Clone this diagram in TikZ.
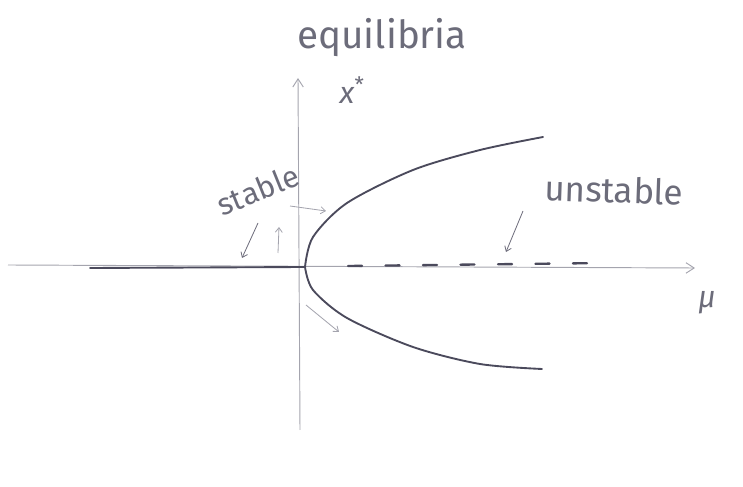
\documentclass[tikz,border=0pt]{standalone}
\usepackage{fontspec}
\setmainfont{Fira Sans}
\usetikzlibrary{arrows.meta}
\definecolor{pencil}{HTML}{4B4A5C}
\definecolor{lead}{HTML}{A4A4AE}
\definecolor{graphite}{HTML}{6C6C7A}

\begin{document}
\begin{tikzpicture}[
  x=0.03cm, y=-0.03cm,
  axis/.style={-{Straight Barb[length=7pt, width=9pt]}, lead, line width=0.8pt},
  branch/.style={pencil, line width=1.6pt, line cap=round},
  hint/.style={-{Straight Barb[length=4pt, width=6pt]}, lead, line width=0.7pt},
  label/.style={graphite, font=\fontsize{26}{30}\selectfont, inner sep=0pt},
]
\useasboundingbox (0,0) rectangle (743,487);

% ===== Axes =====
\coordinate (mu0) at (8,265);
\coordinate (mu1) at (695,268);
\coordinate (x0) at (300,430);
\coordinate (x1) at (298,78);
\coordinate (O) at (305,267);
\draw[axis] (mu0) -- (mu1);
\draw[axis] (x0) -- (x1);

\node[label, font=\fontsize{33}{36}\selectfont] (title) at (382,38) {equilibria};
\node[label] (xstar) at (352,90) {\textit{x}\textsuperscript{*}};
\node[label] (mu) at (707,303) {\textit{μ}};

% ===== Branches =====
% stable, mu < 0
\coordinate (left) at (90,268);
\draw[branch] (left) -- (O);
% unstable, mu > 0
\coordinate (d0) at (348,266);
\coordinate (right) at (605,263);
\draw[branch, line width=2pt, dash pattern=on 12pt off 20pt] (d0) -- (right);
% stable, mu > 0
\draw[branch] plot[smooth] coordinates
  {(O) (313,237) (347,203) (413,170) (480,150) (543,137)};
\draw[branch] plot[smooth] coordinates
  {(O) (313,290) (347,318) (413,347) (480,364) (542,369)};

% ===== Labels =====
\node[label, rotate=22] (stable) at (258,190) {stable};
\node[label, rotate=-2, font=\fontsize{30}{34}\selectfont] (unstable) at (614,190) {unstable};

\coordinate (s0) at (258,223);
\coordinate (s1) at (242,258);
\coordinate (s2) at (278,253);
\coordinate (s3) at (279,227);
\coordinate (u0) at (523,211);
\coordinate (u1) at (506,252);
\coordinate (a0) at (290,206);
\coordinate (a1) at (326,211);
\coordinate (b0) at (306,305);
\coordinate (b1) at (339,332);
\draw[hint, pencil!80] (s0) -- (s1);
\draw[hint] (s2) -- (s3);
\draw[hint, pencil!80] (u0) -- (u1);
\draw[hint] (a0) -- (a1);
\draw[hint] (b0) -- (b1);

\end{tikzpicture}
\end{document}
